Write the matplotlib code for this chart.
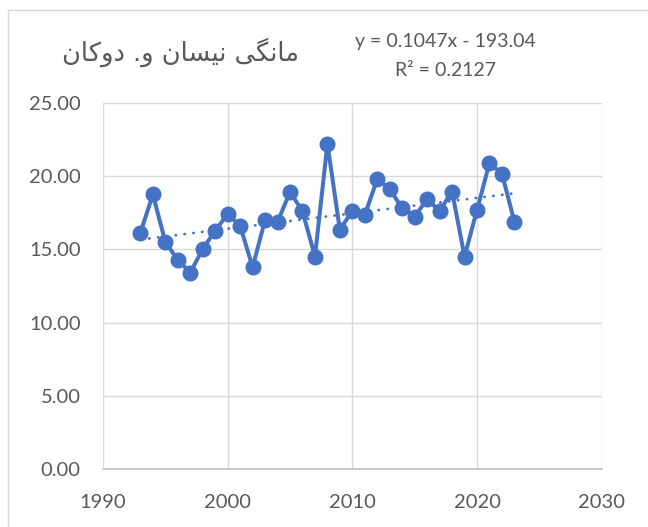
import matplotlib.pyplot as plt
import matplotlib.patches as mpatches
import numpy as np

years = np.arange(1993, 2024)
values = [16.13, 18.73, 15.48, 14.27, 13.41, 15.02, 16.27, 17.41, 16.59, 13.78,
          17.00, 16.86, 18.91, 17.59, 14.50, 22.18, 16.32, 17.63, 17.34, 19.78,
          19.09, 17.80, 17.23, 18.41, 17.61, 18.93, 14.50, 17.68, 20.87, 20.14,
          16.88]
title = 'مانگی نیسان و. دوکان'
eq_text = 'y = 0.1047x - 193.04'
r2_text = 'R² = 0.2127'
x_ticks = [1990, 2000, 2010, 2020, 2030]
y_ticks = [0, 5, 10, 15, 20, 25]

# matplotlib has no arabic shaping, so pick presentation forms by hand
# (isolated, final, initial, medial)
forms = {
    'م': ('\uFEE1', '\uFEE2', '\uFEE3', '\uFEE4'),
    'ن': ('\uFEE5', '\uFEE6', '\uFEE7', '\uFEE8'),
    'گ': ('\uFB92', '\uFB93', '\uFB94', '\uFB95'),
    'ی': ('\uFBFC', '\uFBFD', '\uFBFE', '\uFBFF'),
    'س': ('\uFEB1', '\uFEB2', '\uFEB3', '\uFEB4'),
    'ک': ('\uFB8E', '\uFB8F', '\uFB90', '\uFB91'),
    'ا': ('\uFE8D', '\uFE8E', None, None),
    'و': ('\uFEED', '\uFEEE', None, None),
    'د': ('\uFEA9', '\uFEAA', None, None),
}


def shape_rtl(text):
    out = []
    for i, ch in enumerate(text):
        if ch not in forms:
            out.append(ch)
            continue
        prev = text[i - 1] if i > 0 else ''
        nxt = text[i + 1] if i + 1 < len(text) else ''
        join_prev = prev in forms and forms[prev][2] is not None
        join_next = forms[ch][2] is not None and nxt in forms
        if join_prev and join_next:
            out.append(forms[ch][3])
        elif join_prev:
            out.append(forms[ch][1])
        elif join_next:
            out.append(forms[ch][2])
        else:
            out.append(forms[ch][0])
    return ''.join(reversed(out))


plt.rcParams['font.family'] = ['Lato', 'DejaVu Sans']
grey = '#595959'
blue = '#4472C4'

fig = plt.figure(figsize=(6.48, 5.27), dpi=100)
ax = fig.add_axes([0.159, 0.1095, 0.7695, 0.696])

# outer chart frame (only top and left edges fall inside the image)
fig.patches.append(mpatches.Rectangle((8 / 648, -0.5), 2, 1.5 - 10 / 527,
                                      transform=fig.transFigure, fill=False,
                                      edgecolor='#d9d9d9', linewidth=1.0))

coef = np.polyfit(years, values, 1)
trend = np.polyval(coef, years)
ax.plot(years, trend, color=blue, linewidth=2.0, linestyle=(0, (0.1, 3.1)),
        dash_capstyle='round', zorder=3)
ax.plot(years, values, color=blue, linewidth=2.9, marker='o', markersize=10.5,
        zorder=4)

ax.set_xlim(1990, 2030)
ax.set_ylim(0, 25)
ax.set_xticks(x_ticks)
ax.set_yticks(y_ticks)
ax.set_yticklabels([f'{v:.2f}' for v in y_ticks])
ax.tick_params(length=0, labelsize=14.5, colors=grey)
ax.tick_params(axis='x', pad=18)
ax.tick_params(axis='y', pad=16)
ax.grid(True, color='#d9d9d9', linewidth=1.0)
ax.set_axisbelow(True)
for side in ['top', 'right', 'left']:
    ax.spines[side].set_visible(False)
ax.spines['bottom'].set_color('#bfbfbf')
ax.spines['bottom'].set_linewidth(1.2)

fig.text(180 / 648, 1 - 52 / 527, shape_rtl(title), family=['DejaVu Sans'],
         fontsize=18.5, color=grey, ha='center', va='center')
fig.text(445 / 648, 1 - 42 / 527, eq_text, fontsize=14, color=grey,
         ha='center', va='center')
fig.text(445 / 648, 1 - 70 / 527, r2_text, fontsize=14, color=grey,
         ha='center', va='center')

fig.savefig('out.png', dpi=100)
